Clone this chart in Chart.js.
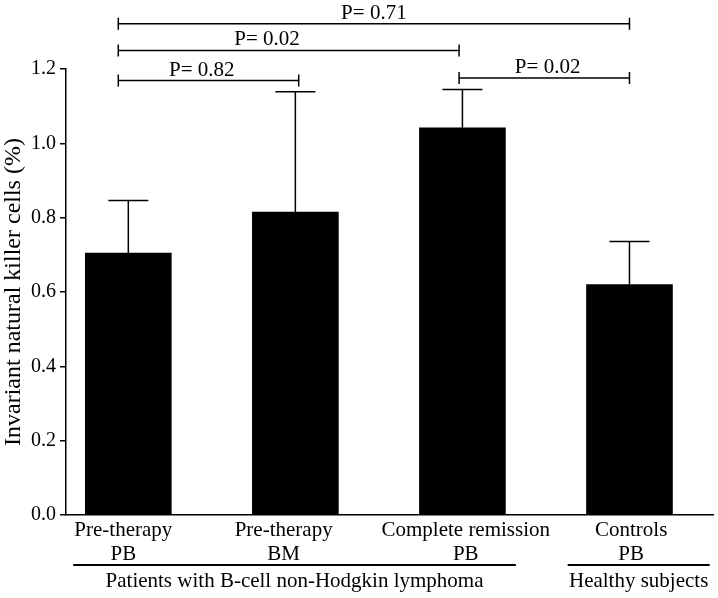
<!DOCTYPE html>
<html>
<head>
<meta charset="utf-8">
<script src="https://cdn.jsdelivr.net/npm/chart.js@4"></script>
<style>
  body { margin: 0; background: #fff; }
  #wrap { width: 718px; height: 598px; }
</style>
</head>
<body>
<div id="wrap"><canvas id="chart" width="718" height="598"></canvas></div>
<script>
// bar data
const categories = [["Pre-therapy", "PB"], ["Pre-therapy", "BM"], ["Complete remission", "PB"], ["Controls", "PB"]];
const labelPos = [-0.03, 0.93, 2.02, 3.01];
const means = [0.705, 0.815, 1.042, 0.62];
const errors = [0.141, 0.324, 0.103, 0.116];
const yTicks = [0, 0.2, 0.4, 0.6, 0.8, 1.0, 1.2];

// significance brackets (x in category units, y in axis units)
const pLabels = ["P= 0.82", "P= 0.02", "P= 0.71", "P= 0.02"];
const pFrom = [-0.06, -0.06, -0.06, 1.98];
const pTo = [1.02, 1.98, 3.0, 3.0];
const pLevel = [1.169, 1.25, 1.322, 1.176];
const pTextX = [0.44, 0.83, 1.47, 2.51];

// groups under the axis
const groups = ["Patients with B-cell non-Hodgkin lymphoma", "Healthy subjects"];
const groupFrom = [-0.33, 2.63];
const groupTo = [2.32, 3.48];

const FONT = "'Liberation Serif', 'Times New Roman', serif";

// Draws error bars, p-value brackets and group labels
const extras = {
    id: "extras",
    afterDatasetsDraw(chart) {
        const { ctx, scales: { x, y }, chartArea } = chart;
        ctx.save();
        ctx.strokeStyle = "#000";
        ctx.fillStyle = "#000";
        ctx.lineWidth = 1.5;

        // error bars (upper only)
        means.forEach((m, i) => {
            const px = x.getPixelForValue(i);
            const top = y.getPixelForValue(m + errors[i]);
            ctx.beginPath();
            ctx.moveTo(px, y.getPixelForValue(m));
            ctx.lineTo(px, top);
            ctx.moveTo(px - 20, top);
            ctx.lineTo(px + 20, top);
            ctx.stroke();
        });

        // brackets
        ctx.font = "21px " + FONT;
        ctx.textAlign = "center";
        ctx.textBaseline = "alphabetic";
        pLabels.forEach((label, i) => {
            const x1 = x.getPixelForValue(pFrom[i]);
            const x2 = x.getPixelForValue(pTo[i]);
            const py = y.getPixelForValue(pLevel[i]);
            ctx.beginPath();
            ctx.moveTo(x1, py); ctx.lineTo(x2, py);
            ctx.moveTo(x1, py - 6); ctx.lineTo(x1, py + 6);
            ctx.moveTo(x2, py - 6); ctx.lineTo(x2, py + 6);
            ctx.stroke();
            ctx.fillText(label, x.getPixelForValue(pTextX[i]), py - 5);
        });

        // group lines and labels
        ctx.font = "21px " + FONT;
        ctx.textBaseline = "middle";
        ctx.lineWidth = 2;
        groups.forEach((g, i) => {
            const x1 = x.getPixelForValue(groupFrom[i]);
            const x2 = x.getPixelForValue(groupTo[i]);
            const ly = chartArea.bottom + 50;
            ctx.beginPath();
            ctx.moveTo(x1, ly); ctx.lineTo(x2, ly);
            ctx.stroke();
            ctx.fillText(g, (x1 + x2) / 2, ly + 16);
        });
        ctx.restore();
    }
};

new Chart(document.getElementById("chart"), {
    type: "bar",
    data: {
        datasets: [{
            data: means.map((v, i) => ({ x: i, y: v })),
            backgroundColor: "#000",
            borderWidth: 0,
            barThickness: 86
        }]
    },
    options: {
        responsive: false,
        animation: false,
        devicePixelRatio: 1,
        layout: { padding: { top: 69, right: 5, left: 0, bottom: 0 } },
        plugins: { legend: { display: false }, tooltip: { enabled: false } },
        scales: {
            x: {
                type: "linear",
                offset: false,
                min: -0.373,
                max: 3.5,
                afterBuildTicks: s => { s.ticks = labelPos.map(v => ({ value: v })); },
                afterFit: s => { s.height = 83; },
                grid: { display: false, drawTicks: false },
                border: { display: true, color: "#000", width: 1.5 },
                ticks: {
                    autoSkip: false,
                    maxRotation: 0,
                    padding: 3,
                    color: "#000",
                    font: { family: FONT, size: 21, lineHeight: 1.15 },
                    callback: (v, i) => categories[i]
                }
            },
            y: {
                min: 0,
                max: 1.2,
                afterBuildTicks: s => { s.ticks = yTicks.map(v => ({ value: v })); },
                afterFit: s => { s.width = 66; },
                grid: { display: true, drawOnChartArea: false, drawTicks: true, tickLength: 6, color: "#000", lineWidth: 1.5 },
                border: { display: true, color: "#000", width: 1.5 },
                ticks: {
                    padding: 4,
                    color: "#000",
                    font: { family: FONT, size: 20 },
                    callback: v => v.toFixed(1)
                },
                title: {
                    display: true,
                    text: "Invariant natural killer cells (%)",
                    color: "#000",
                    font: { family: FONT, size: 24, lineHeight: 1.0 },
                    padding: { top: 2, bottom: 0 }
                }
            }
        }
    },
    plugins: [extras]
});
</script>
</body>
</html>
